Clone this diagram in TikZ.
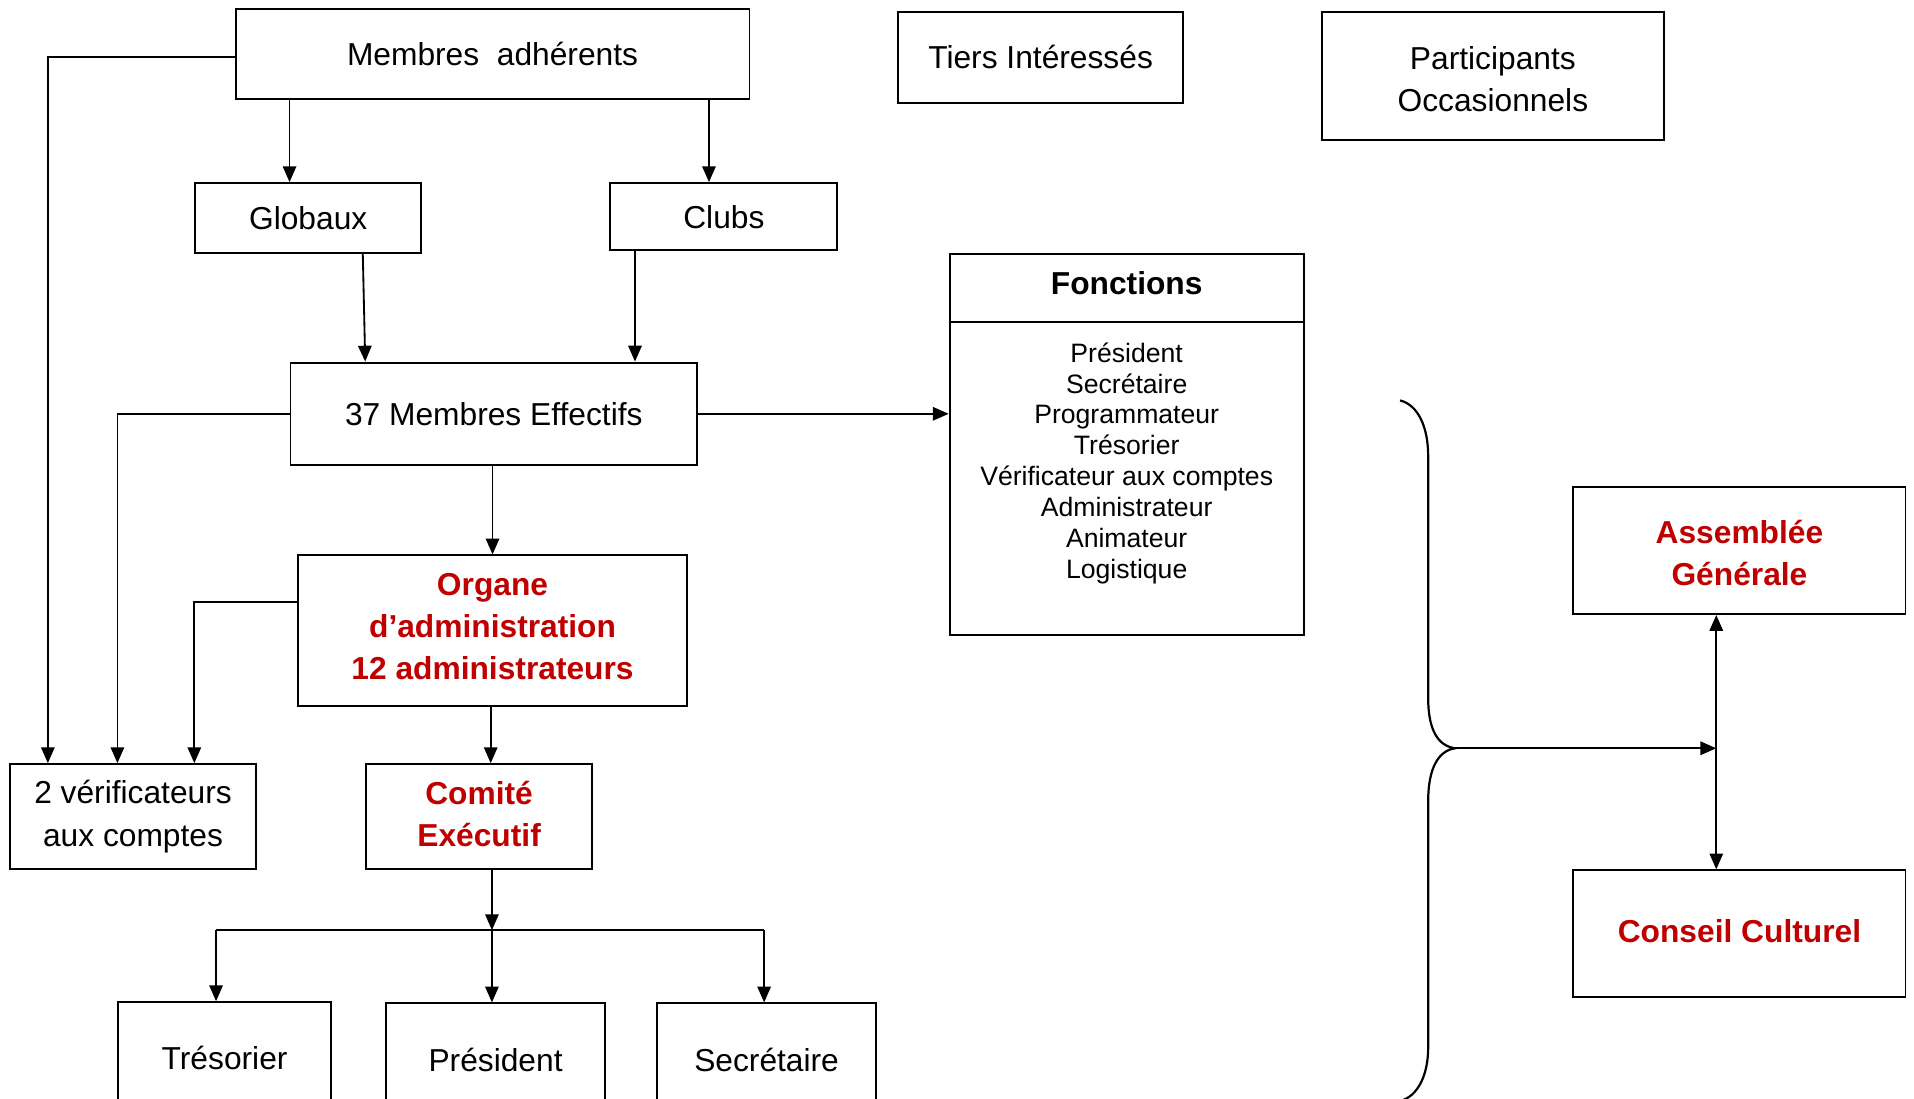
\documentclass[tikz,border=0pt]{standalone}
\usepackage{fontspec}
\setmainfont{Liberation Sans}
\usetikzlibrary{arrows.meta}
\definecolor{myred}{HTML}{C00000}
\begin{document}
\begin{tikzpicture}[x=0.5pt,y=-0.5pt,
  box/.style={draw, line width=0.8pt, inner sep=0pt, align=center, font=\fontsize{13}{17.25}\selectfont},
  lbl/.style={inner sep=0pt, align=center, font=\fontsize{13}{17.25}\selectfont},
  redlbl/.style={lbl, text=myred, font=\fontsize{13}{17.25}\selectfont\bfseries},
  conn/.style={line width=0.75pt},
  arr/.style={conn, -{Triangle[length=6.5pt,width=5.5pt]}},
  arrtwo/.style={conn, {Triangle[length=6.5pt,width=5.5pt]}-{Triangle[length=6.5pt,width=5.5pt]}}]
\useasboundingbox (0,0) rectangle (1568,900);
\clip (0,0) rectangle (1568,900);
\fill[white] (0,0) rectangle (1568,900);

% top row
\node[box, minimum width=210.5pt, minimum height=37pt] (mem) at (403.5,44) {Membres\ \ adhérents};
\node[box, minimum width=116.5pt, minimum height=37pt] (tiers) at (852.5,47) {Tiers Intéressés};
\node[box, minimum width=140pt, minimum height=52.5pt] (part) at (1223,62.5) {};
\node[lbl] (partt) at (1223,65) {Participants\\Occasionnels};

% second row
\node[box, minimum width=92.5pt, minimum height=28.5pt] (glob) at (252.5,178.5) {Globaux};
\node[box, minimum width=93pt, minimum height=27.5pt] (clubs) at (593,177.5) {Clubs};

% Fonctions
\node[box, minimum width=145pt, minimum height=156pt] (fonc) at (923,364) {};
\node[lbl, font=\fontsize{13}{17.25}\selectfont\bfseries] (fonctitle) at (923,232) {Fonctions};
\draw[line width=0.8pt] (fonc.west |- 0,264) coordinate (dl) -- (fonc.east |- 0,264) coordinate (dr);
\node[lbl, font=\fontsize{10.9}{12.65}\selectfont] (fonclist) at (923,379.5)
  {Président\\Secrétaire\\Programmateur\\Trésorier\\Vérificateur aux comptes\\Administrateur\\Animateur\\Logistique};

% middle
\node[box, minimum width=166.5pt, minimum height=42pt] (eff) at (404.5,339) {37 Membres Effectifs};
\node[box, minimum width=159.5pt, minimum height=61.5pt] (org) at (403.5,516.5) {};
\node[redlbl] (orgt) at (403.5,513.5) {Organe\\d’administration\\12 administrateurs};
\node[box, minimum width=101pt, minimum height=43pt] (ver) at (109,669) {2 vérificateurs\\aux comptes};
\node[box, minimum width=92.5pt, minimum height=43pt] (com) at (392.5,669) {};
\node[redlbl] (comt) at (392.5,667) {Comité\\Exécutif};

% bottom row (cut by the page edge)
\node[box, minimum width=87pt, minimum height=46pt] (tres) at (184,867) {Trésorier};
\node[box, minimum width=90pt, minimum height=46pt] (pres) at (406,868) {Président};
\node[box, minimum width=90pt, minimum height=46pt] (sec) at (628,868) {Secrétaire};

% right side
\node[box, minimum width=136pt, minimum height=52pt] (ag) at (1425,451) {};
\node[redlbl] (agt) at (1425,453) {Assemblée\\Générale};
\node[box, minimum width=136pt, minimum height=52pt] (cc) at (1425,765) {};
\node[redlbl] (cct) at (1425,763) {Conseil Culturel};

% connectors
\draw[arr] ([yshift=-1.5pt]mem.west) -| ([xshift=16pt]ver.north west);
\draw[arr] ([xshift=22.5pt]mem.south west) -- ([xshift=22.5pt]mem.south west |- glob.north);
\draw[arr] ([xshift=-17pt]mem.south east) -- ([xshift=-17pt]mem.south east |- clubs.north);
\draw[arr] ([xshift=69pt]glob.south west) -- ([xshift=31pt]eff.north west);
\draw[arr] ([xshift=10.5pt]clubs.south west) -- ([xshift=10.5pt]clubs.south west |- eff.north);
\draw[arr] (eff.west) -| ([xshift=44.5pt]ver.north west);
\draw[arr] (eff.east) -- (eff.east -| fonc.west);
\draw[arr] ([xshift=-0.5pt]eff.south) -- ([xshift=-0.5pt]eff.south |- org.north);
\draw[arr] ([yshift=11.5pt]org.west) -| ([xshift=76pt]ver.north west);
\draw[arr] ([xshift=-0.75pt]org.south) -- ([xshift=-0.75pt]org.south |- com.north);

\coordinate (j) at (403,762);
\coordinate (jl) at (177,762);
\coordinate (jr) at (626,762);
\draw[arr] (j |- com.south) -- (j);
\draw[conn] (jl) -- (jr);
\draw[arr] (jl) -- (jl |- tres.north);
\draw[arr] (j) -- (j |- pres.north);
\draw[arr] (jr) -- (jr |- sec.north);

% brace
\coordinate (tip) at (1192,613);
\draw[line width=0.9pt] (1147,328) .. controls (1162,332) and (1170,350) .. (1170,374)
  -- (1170,572) .. controls (1170,598) and (1178,611) .. (tip)
  .. controls (1178,615) and (1170,630) .. (1170,656)
  -- (1170,858) .. controls (1170,880) and (1162,898) .. (1147,902);
\coordinate (mid) at (1406,613);
\draw[arr] (tip) -- (mid);
\draw[arrtwo] (ag.south -| mid) -- (cc.north -| mid);
\end{tikzpicture}
\end{document}
